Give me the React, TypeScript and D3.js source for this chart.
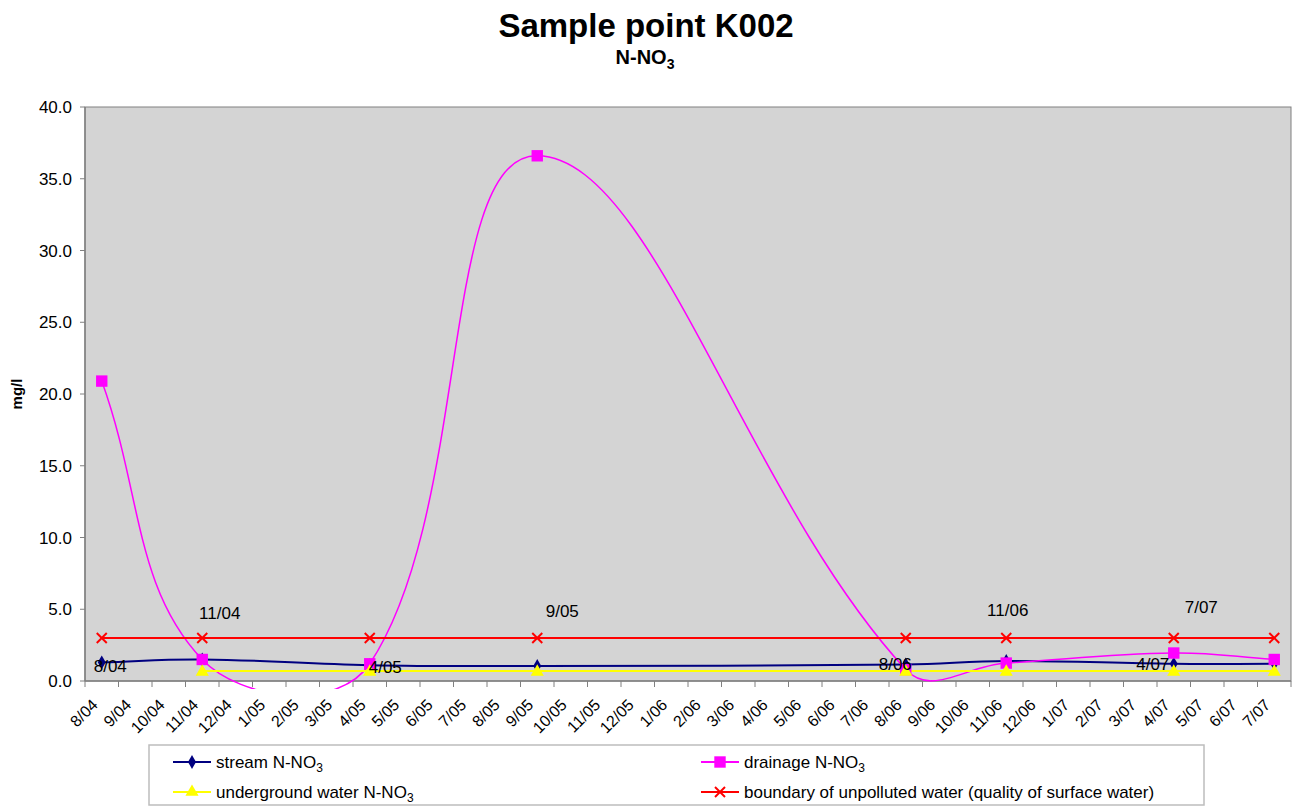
import * as d3 from "d3";

const WIDTH = 1295;
const HEIGHT = 807;
const PLOT = { left: 85, right: 1291, top: 107, bottom: 681 };
const FONT = "Arial, 'Liberation Sans', Helvetica, sans-serif";

const MONTHS = [
  "8/04", "9/04", "10/04", "11/04", "12/04",
  "1/05", "2/05", "3/05", "4/05", "5/05", "6/05", "7/05", "8/05", "9/05", "10/05", "11/05", "12/05",
  "1/06", "2/06", "3/06", "4/06", "5/06", "6/06", "7/06", "8/06", "9/06", "10/06", "11/06", "12/06",
  "1/07", "2/07", "3/07", "4/07", "5/07", "6/07", "7/07",
];

const SAMPLE_DATES = ["8/04", "11/04", "4/05", "9/05", "8/06", "11/06", "4/07", "7/07"];
const STREAM = [1.3, 1.5, 1.1, 1.05, 1.15, 1.4, 1.2, 1.2];
const DRAINAGE = [20.9, 1.5, 1.2, 36.6, 0.8, 1.25, 1.95, 1.5];
const UNDERGROUND: (number | null)[] = [null, 0.7, 0.7, 0.7, 0.7, 0.7, 0.7, 0.7];
const BOUNDARY = [3.0, 3.0, 3.0, 3.0, 3.0, 3.0, 3.0, 3.0];

const Y_TICKS = [0, 5, 10, 15, 20, 25, 30, 35, 40];

// data labels (month text, anchored to a sample date at a mg/l level)
const LABELS = ["8/04", "11/04", "4/05", "9/05", "8/06", "11/06", "4/07", "7/07"];
const LABEL_LEVEL = [0.63, 4.32, 0.56, 4.46, 0.77, 4.53, 0.77, 4.74];
const LABEL_DX = [8.5, 17.5, 15.5, 25, -10.5, 1.5, -21, -73];

const x = d3.scaleBand().domain(MONTHS).range([PLOT.left, PLOT.right]).padding(0);
const y = d3.scaleLinear().domain([0, 40]).range([PLOT.bottom, PLOT.top]);
const cx = (m: string) => (x(m) ?? 0) + x.bandwidth() / 2;

// Excel-like smoothed line: bezier controls scaled by neighbouring segment lengths
function smoothPath(pts: [number, number][]) {
  const p = d3.path();
  if (!pts.length) return "";
  p.moveTo(pts[0][0], pts[0][1]);
  const f = 0.4;
  const dist = (a: [number, number], b: [number, number]) => Math.hypot(b[0] - a[0], b[1] - a[1]);
  for (let i = 0; i < pts.length - 1; i++) {
    const p0 = pts[i - 1] ?? pts[i];
    const p1 = pts[i];
    const p2 = pts[i + 1];
    const p3 = pts[i + 2] ?? pts[i + 1];
    const d01 = dist(p0, p1);
    const d12 = dist(p1, p2);
    const d23 = dist(p2, p3);
    const a = d01 + d12 > 0 ? (f * d12) / (d01 + d12) : 0;
    const b = d12 + d23 > 0 ? (f * d12) / (d12 + d23) : 0;
    const c1: [number, number] = [p1[0] + (p2[0] - p0[0]) * a, p1[1] + (p2[1] - p0[1]) * a];
    const c2: [number, number] = [p2[0] - (p3[0] - p1[0]) * b, p2[1] - (p3[1] - p1[1]) * b];
    p.bezierCurveTo(c1[0], c1[1], c2[0], c2[1], p2[0], p2[1]);
  }
  return p.toString();
}

const points = (vals: (number | null)[]) =>
  SAMPLE_DATES.map((m, i) => [m, vals[i]] as [string, number | null])
    .filter((d) => d[1] !== null)
    .map((d) => [cx(d[0]), y(d[1] as number)] as [number, number]);

const diamond = d3.symbol().type(d3.symbolDiamond).size(55)();
const square = d3.symbol().type(d3.symbolSquare).size(130)();
const triangle = d3.symbol().type(d3.symbolTriangle).size(75)();

const Cross = ({ px, py, color }: { px: number; py: number; color: string }) => (
  <g stroke={color} strokeWidth={2}>
    <line x1={px - 5} y1={py - 5} x2={px + 5} y2={py + 5} />
    <line x1={px - 5} y1={py + 5} x2={px + 5} y2={py - 5} />
  </g>
);

const LEGEND = [
  { name: "stream N-NO", sub: "3", color: "#000080", marker: "diamond", lx: 173, ly: 762 },
  { name: "drainage N-NO", sub: "3", color: "#ff00ff", marker: "square", lx: 701, ly: 762 },
  { name: "underground water N-NO", sub: "3", color: "#ffff00", marker: "triangle", lx: 173, ly: 792 },
  { name: "boundary of unpolluted water (quality of surface water)", sub: "", color: "#ff0000", marker: "cross", lx: 701, ly: 792 },
];

const markerAt = (kind: string, color: string, px: number, py: number, key?: string | number) => {
  if (kind === "cross") return <Cross key={key} px={px} py={py} color={color} />;
  const d = kind === "diamond" ? diamond : kind === "square" ? square : triangle;
  return <path key={key} d={d ?? ""} transform={`translate(${px},${py})`} fill={color} />;
};

export default function App() {
  const streamPts = points(STREAM);
  const drainPts = points(DRAINAGE);
  const underPts = points(UNDERGROUND);
  const boundPts = points(BOUNDARY);

  return (
    <svg
      width={WIDTH}
      height={HEIGHT}
      style={{ position: "absolute", left: 0, top: 0, background: "#ffffff" }}
      fontFamily={FONT}
    >
      <defs>
        <clipPath id="plotClip">
          <rect x={PLOT.left} y={PLOT.top - 5} width={PLOT.right - PLOT.left} height={PLOT.bottom - PLOT.top + 13} />
        </clipPath>
      </defs>

      {/* titles */}
      <text x={646} y={37} textAnchor="middle" fontSize={33} fontWeight="bold">
        Sample point K002
      </text>
      <text x={645} y={64} textAnchor="middle" fontSize={20} fontWeight="bold">
        N-NO<tspan fontSize={14} dy={5}>3</tspan>
      </text>

      {/* plot area */}
      <rect
        x={PLOT.left}
        y={PLOT.top}
        width={PLOT.right - PLOT.left}
        height={PLOT.bottom - PLOT.top}
        fill="#d4d4d4"
        stroke="#808080"
        strokeWidth={1}
      />

      {/* y axis */}
      <line x1={PLOT.left} x2={PLOT.left} y1={PLOT.top} y2={PLOT.bottom} stroke="#808080" strokeWidth={1.5} />
      {Y_TICKS.map((t) => (
        <g key={t}>
          <line x1={PLOT.left - 5} x2={PLOT.left} y1={y(t)} y2={y(t)} stroke="#808080" />
          <text x={72} y={y(t)} dy="0.36em" textAnchor="end" fontSize={17}>
            {d3.format(".1f")(t)}
          </text>
        </g>
      ))}
      <text
        transform={`translate(22,${(PLOT.top + PLOT.bottom) / 2}) rotate(-90)`}
        textAnchor="middle"
        fontSize={15}
        fontWeight="bold"
      >
        mg/l
      </text>

      {/* x axis */}
      <line x1={PLOT.left} x2={PLOT.right} y1={PLOT.bottom} y2={PLOT.bottom} stroke="#808080" strokeWidth={1.5} />
      {MONTHS.map((m) => (
        <line key={"t" + m} x1={x(m)} x2={x(m)} y1={PLOT.bottom} y2={PLOT.bottom + 6} stroke="#808080" />
      ))}
      <line x1={PLOT.right} x2={PLOT.right} y1={PLOT.bottom} y2={PLOT.bottom + 6} stroke="#808080" />
      {MONTHS.map((m) => (
        <text
          key={"l" + m}
          transform={`translate(${cx(m) - 3},${PLOT.bottom + 25}) rotate(-45)`}
          textAnchor="end"
          fontSize={16}
        >
          {m}
        </text>
      ))}

      {/* series */}
      <g clipPath="url(#plotClip)" fill="none">
        <path d={smoothPath(streamPts)} stroke="#000080" strokeWidth={2} />
        <path d={smoothPath(drainPts)} stroke="#ff00ff" strokeWidth={1.5} />
        <path d={smoothPath(underPts)} stroke="#ffff00" strokeWidth={2} />
        <path d={smoothPath(boundPts)} stroke="#ff0000" strokeWidth={2} />
      </g>
      {streamPts.map((p, i) => markerAt("diamond", "#000080", p[0], p[1], "s" + i))}
      {drainPts.map((p, i) => markerAt("square", "#ff00ff", p[0], p[1], "d" + i))}
      {underPts.map((p, i) => markerAt("triangle", "#ffff00", p[0], p[1] + 1, "u" + i))}
      {boundPts.map((p, i) => markerAt("cross", "#ff0000", p[0], p[1], "b" + i))}

      {/* data labels */}
      {LABELS.map((l, i) => (
        <text key={"dl" + i} x={cx(SAMPLE_DATES[i]) + LABEL_DX[i]} y={y(LABEL_LEVEL[i])} textAnchor="middle" fontSize={17}>
          {l}
        </text>
      ))}

      {/* legend */}
      <rect x={149} y={745} width={1055} height={60} fill="#ffffff" stroke="#bdbdbd" strokeWidth={1.5} />
      {LEGEND.map((e) => (
        <g key={e.name}>
          <line x1={e.lx} x2={e.lx + 38} y1={e.ly} y2={e.ly} stroke={e.color} strokeWidth={2} />
          {markerAt(e.marker, e.color, e.lx + 19, e.ly)}
          <text x={e.lx + 43} y={e.ly} dy="0.36em" fontSize={17}>
            {e.name}
            {e.sub ? <tspan fontSize={12} dy={4}>{e.sub}</tspan> : null}
          </text>
        </g>
      ))}
    </svg>
  );
}
